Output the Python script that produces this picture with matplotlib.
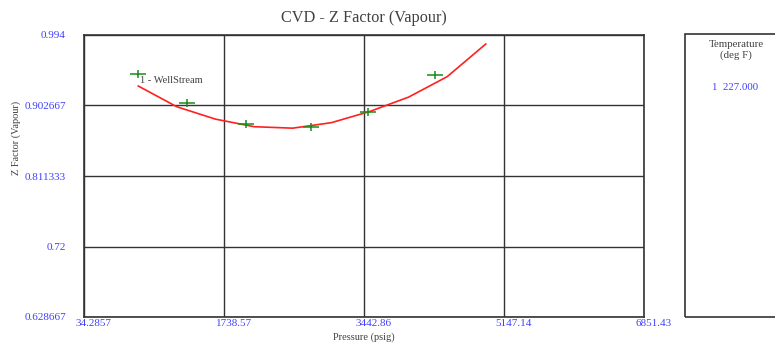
import numpy as np
import matplotlib
matplotlib.use("Agg")
from matplotlib import pyplot as plt
from matplotlib.path import Path
from matplotlib.patches import Rectangle
import matplotlib.transforms as mtransforms

plt.rcParams['font.family'] = ['Liberation Serif', 'DejaVu Serif']

# measured points (WellStream)
pressure_pts = [695, 1291, 2002, 2797, 3495, 4307]
zfactor_pts = [0.9435, 0.9055, 0.8787, 0.8748, 0.8942, 0.9426]

# simulated curve
pressure_line = [695, 1165, 1635, 2105, 2575, 3045, 3515, 3985, 4455, 4925]
zfactor_line = [0.9279, 0.9010, 0.8850, 0.8752, 0.8733, 0.8804, 0.8950, 0.9135, 0.9400, 0.9823]

xticks = [34.2857, 1738.57, 3442.86, 5147.14, 6851.43]
yticks = [0.628667, 0.72, 0.811333, 0.902667, 0.994]
xtick_labels = ["34.2857", "1738.57", "3442.86", "5147.14", "6851.43"]
ytick_labels = ["0.628667", "0.72", "0.811333", "0.902667", "0.994"]

series_name = "1 - WellStream"
legend_title = "Temperature\n(deg F)"
legend_entry = "1  227.000"

blue = '#4040ff'
grey = '#333333'
txt = '#404040'

fig = plt.figure(figsize=(7.75, 3.48), dpi=100)
ax = fig.add_axes([84/775, 1-317/348, 560/775, 282/348])

ax.plot(pressure_line, zfactor_line, color='#ff2020', lw=1.2, zorder=3)

plus = Path([(-1, 0), (1, 0), (0, -0.5), (0, 0.5)],
            [Path.MOVETO, Path.LINETO, Path.MOVETO, Path.LINETO])
ax.plot(pressure_pts, zfactor_pts, ls='none', marker=plus, markersize=12,
        markeredgecolor='#1a8c1a', markeredgewidth=1.1, zorder=4)

# series label next to first point
off = mtransforms.offset_copy(ax.transData, fig=fig, x=1, y=-5, units='points')
ax.text(pressure_pts[0], zfactor_pts[0], series_name, transform=off,
        fontsize=7.5, color=txt, ha='left', va='center')

ax.set_xlim(xticks[0], xticks[-1])
ax.set_ylim(yticks[0], yticks[-1])
ax.set_xticks(xticks)
ax.set_yticks(yticks)
ax.set_xticklabels(xtick_labels)
ax.set_yticklabels(ytick_labels)
ax.tick_params(length=0, labelsize=8, labelcolor=blue)
ax.tick_params(axis='y', pad=13)
ax.tick_params(axis='x', pad=1.5)
for lab in ax.get_xticklabels():
    lab.set_transform(lab.get_transform() + mtransforms.ScaledTranslation(7/72, 0, fig.dpi_scale_trans))

ax.grid(True, color=grey, lw=1)
for s in ax.spines.values():
    s.set_color(grey)
    s.set_linewidth(1.2)

ax.set_title("CVD - Z Factor (Vapour)", fontsize=11.7, color=txt, pad=9)
ax.set_xlabel("Pressure (psig)", fontsize=7.5, color=txt, labelpad=3)
fig.text(16/775, 1-138/348, "Z Factor (Vapour)", rotation=90, fontsize=7.4,
         color=txt, ha='center', va='center')

# legend panel on the right
fig.patches.append(Rectangle((685/775, 1-317/348), 0.2, 283/348,
                             transform=fig.transFigure, fill=False,
                             edgecolor=grey, lw=1.2))
fig.text(736/775, 1-50/348, legend_title, fontsize=7.8, color=txt,
         ha='center', va='center', linespacing=1.2)
fig.text(712/775, 1-88/348, legend_entry, fontsize=7.8, color=blue,
         ha='left', va='center')

fig.savefig("out.png", dpi=100)
